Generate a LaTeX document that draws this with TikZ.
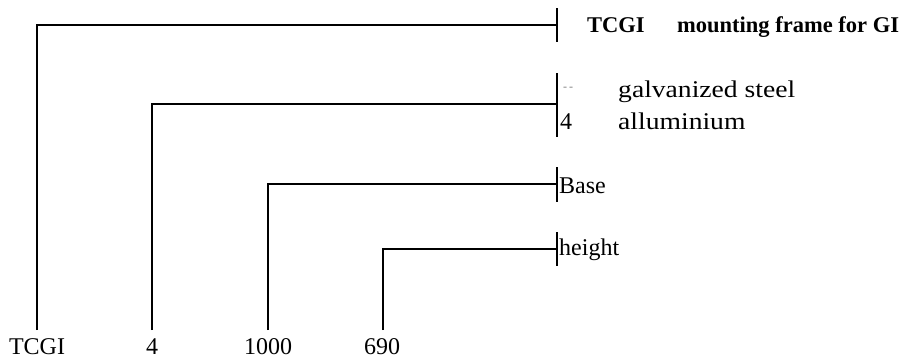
\documentclass[tikz,border=0pt]{standalone}
\usepackage{fontspec}
\setmainfont{Liberation Serif}
\newfontfamily\widefont[FakeStretch=1.15]{Liberation Serif}
\begin{document}
\begin{tikzpicture}[x=1pt,y=-1pt,
  wire/.style={line width=2.4pt, line join=miter},
  lbl/.style={font=\fontsize{24}{28}\selectfont, inner sep=0pt},
  head/.style={font=\fontsize{22.5}{26}\selectfont\bfseries, inner sep=0pt, anchor=base west},
  txt/.style={font=\fontsize{24}{28}\selectfont, inner sep=0pt, anchor=base west},
  wtxt/.style={font=\fontsize{24}{28}\widefont, inner sep=0pt, anchor=base west}]
\useasboundingbox (0,0) rectangle (908,359);
% bars
\coordinate (b1t) at (557,8);  \coordinate (b1b) at (557,42);  \coordinate (m1) at (557,25);
\coordinate (b2t) at (557,73); \coordinate (b2b) at (557,137); \coordinate (m2) at (557,104);
\coordinate (b3t) at (557,167); \coordinate (b3b) at (557,202); \coordinate (m3) at (557,184);
\coordinate (b4t) at (557,232); \coordinate (b4b) at (557,266); \coordinate (m4) at (557,249);
\draw[wire] (b1t) -- (b1b);
\draw[wire] (b2t) -- (b2b);
\draw[wire] (b3t) -- (b3b);
\draw[wire] (b4t) -- (b4b);
% bottom labels
\node[lbl, anchor=base] (l1) at (37,354) {TCGI};
\node[lbl, anchor=base] (l2) at (152,354) {4};
\node[lbl, anchor=base] (l3) at (268,354) {1000};
\node[lbl, anchor=base] (l4) at (382,354) {690};
\coordinate (e1) at (37,330); \coordinate (e2) at (152,330);
\coordinate (e3) at (268,330); \coordinate (e4) at (383,330);
\draw[wire] (e1) |- (m1);
\draw[wire] (e2) |- (m2);
\draw[wire] (e3) |- (m3);
\draw[wire] (e4) |- (m4);
% right texts
\node[head] (t1) at (587,32) {TCGI};
\node[head] (t2) at (677,32) {mounting frame for GI};
\node[font=\fontsize{12}{14}\selectfont\itshape, text=gray, inner sep=0pt, anchor=base west] (d1) at (563,90) {-\,-};
\node[wtxt] (t3) at (618,97) {galvanized steel};
\node[txt] (t4) at (560,129) {4};
\node[wtxt] (t5) at (618,129) {alluminium};
\node[txt] (t6) at (559,193) {Base};
\node[txt] (t7) at (559,255) {height};
\end{tikzpicture}
\end{document}
